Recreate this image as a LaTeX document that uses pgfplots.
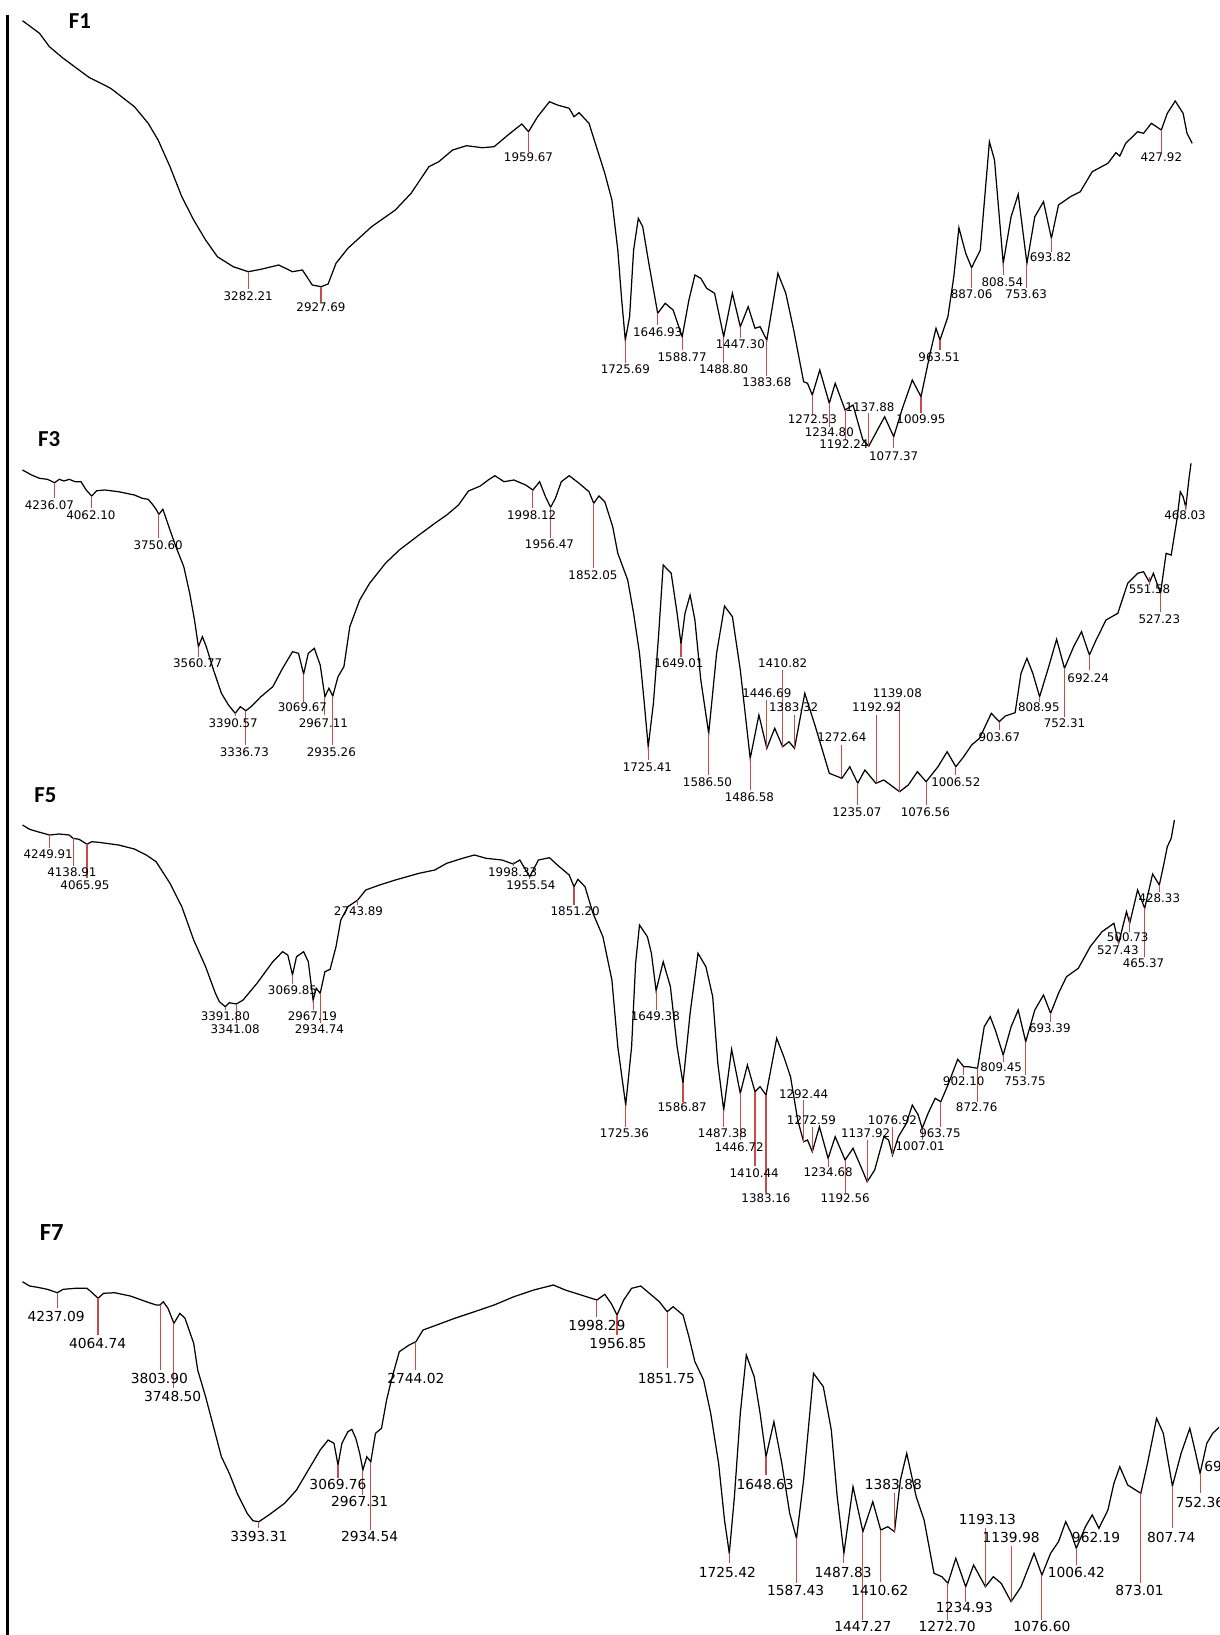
\documentclass[border=0pt]{standalone}
\usepackage{fontspec}
\setmainfont{DejaVu Sans}
\newfontfamily\titlefont{Carlito}
\usepackage{pgfplots}
\pgfplotsset{compat=1.18}
\definecolor{tickred}{RGB}{200,75,75}
\tikzset{
  spec/.style={black,line width=0.7pt,mark=none},
  pk/.style={tickred,line width=0.6pt,mark=none},
  lbl/.style={font=\fontsize{6.75}{7}\selectfont,inner sep=0pt,anchor=center},
  lbg/.style={font=\fontsize{7.85}{8}\selectfont,inner sep=0pt,anchor=center},
  ttl/.style={font=\titlefont\bfseries\fontsize{13}{14}\selectfont,inner sep=0pt,anchor=center}
}
\newcommand{\lb}[3]{\node[lbl] at (axis cs:#1,#2) {#3};}
\newcommand{\lbG}[3]{\node[lbg] at (axis cs:#1,#2) {#3};}
\begin{document}
\begin{tikzpicture}
\begin{axis}[at={(0,0)},anchor=south west,scale only axis,width=24.38cm,height=32.7cm,
  xmin=0,xmax=1219,ymin=0,ymax=1635,y dir=reverse,axis lines=none,clip=true,unbounded coords=jump]
% left vertical line
\addplot[black,line width=1.7pt,mark=none] coordinates {(7.9,15)(7.9,1640)};
% ---------------- F1 ----------------
\addplot[spec] coordinates {(22.5,20.7)(39.5,33.3)(49.4,46.7)(63.2,58.3)(88.9,77.3)(110.7,88.3)(134.4,106.7)(148.2,123.3)(158.1,140)(170,166.7)(181.8,196.7)(193.7,220)(205.6,240)(217.4,256.7)(233.2,266.7)(248.2,271.7)(260.9,269.3)(278.7,265)(292.5,271.7)(302.4,270)(312.3,285)(321,286.7)(328.1,284)(336,263.3)(347.9,248.3)(371.6,226.7)(395.3,210)(411.1,193.3)(428.9,166.7)(438.8,161.7)(452.6,150)(466.5,145.7)(482.3,147.7)(494.1,146.7)(508,135)(521.8,124)(528.5,131.7)(537.6,116.7)(549.5,101.7)(557.4,105)(569.2,108.3)(574,116.7)(579.1,112.7)(589,123.3)(604.8,173.3)(611.9,200)(617.8,250)(621.7,300)(625.3,340)(629.6,316.7)(633.6,250)(638.3,218.3)(642.7,226.7)(649.4,266.7)(657.7,313.3)(665.2,303.3)(673.1,310)(682.2,336.7)(688.9,300)(694.9,275)(700.8,278.3)(706.7,288.3)(714.6,293.3)(723.7,336.7)(732.4,293.3)(740.3,326.7)(748.2,306.7)(755,328.3)(760.1,326.7)(766.8,340)(777.9,273.3)(785.8,293.3)(793.7,330)(803.6,381.7)(807.5,383.3)(812.3,395)(819.8,370)(829.3,403.3)(835.2,383.3)(845.1,410)(853,405)(862.9,440)(868.8,446)(884.6,416.7)(893.7,436.7)(902.4,408.3)(912.3,380)(921,396.7)(930.1,353.3)(936,328.3)(940,340)(947.9,316.7)(953.8,276.7)(958.9,227.7)(965.7,253.3)(971.6,267.7)(980.3,250)(989.4,141.7)(994.5,160)(1003.2,263.3)(1011.1,216.7)(1018.2,194.3)(1026.9,263.3)(1034.8,216.7)(1043.5,201.7)(1051.4,238.3)(1058.5,205)(1070.4,196.7)(1080.3,191.7)(1092.2,171.7)(1107.9,163.3)(1115.9,152.7)(1119.8,156)(1125.7,143.3)(1137.6,131.7)(1143.5,133.3)(1151.4,123.3)(1161.3,130)(1167.3,113.3)(1175.2,101)(1183.1,113.3)(1187,133.3)(1192.2,143.3)};
\addplot[pk] coordinates {(248.2,271.7)(248.2,289)(nan,nan)(321,286.7)(321,301.7)(nan,nan)(528.5,131.7)(528.5,151.7)(nan,nan)(625.3,340)(625.3,363.3)(nan,nan)(657.7,313.3)(657.7,325)(nan,nan)(682.2,336.7)(682.2,350)(nan,nan)(723.7,336.7)(723.7,363.3)(nan,nan)(740.3,326.7)(740.3,338.3)(nan,nan)(766.8,340)(766.8,376)(nan,nan)(812.3,395)(812.3,415)(nan,nan)(829.3,403.3)(829.3,426.7)(nan,nan)(845.1,410)(845.1,440)(nan,nan)(868.8,446)(868.8,413.3)(nan,nan)(893.7,436.7)(893.7,448.3)(nan,nan)(921,396.7)(921,413.3)(nan,nan)(940,340)(940,350)(nan,nan)(971.6,267.7)(971.6,288.3)(nan,nan)(1003.2,263.3)(1003.2,275)(nan,nan)(1026.9,263.3)(1026.9,288.3)(nan,nan)(1051.4,238.3)(1051.4,251.7)(nan,nan)(1161.3,130)(1161.3,151.7)};
\lb{248.2}{295.7}{3282.21}
\lb{321}{307.3}{2927.69}
\lb{528.5}{157.3}{1959.67}
\lb{625.3}{369.3}{1725.69}
\lb{657.7}{332.3}{1646.93}
\lb{682.2}{357.3}{1588.77}
\lb{723.7}{369.3}{1488.80}
\lb{740.3}{344.3}{1447.30}
\lb{766.8}{381.7}{1383.68}
\lb{812.3}{419.3}{1272.53}
\lb{829.3}{431.7}{1234.80}
\lb{843.9}{444.3}{1192.24}
\lb{870}{406.7}{1137.88}
\lb{893.7}{456}{1077.37}
\lb{921}{419.3}{1009.95}
\lb{939.2}{356.7}{963.51}
\lb{971.6}{294.3}{887.06}
\lb{1002.4}{281.7}{808.54}
\lb{1026.1}{294.3}{753.63}
\lb{1050.6}{256.7}{693.82}
\lb{1161.3}{157.3}{427.92}
\node[ttl] at (axis cs:80,21) {F1};
% ---------------- F3 ----------------
\addplot[spec] coordinates {(22.5,470)(31.6,475)(39.5,478.3)(47.4,479.3)(54.6,482.7)(59.3,479.3)(64,481)(69.2,479.3)(75.1,481.7)(81,481.7)(86.2,490)(91.7,496)(96.8,490.7)(104.8,490)(118.6,491.7)(134.4,495)(142.3,498.3)(148.2,499.3)(152.2,504)(156.1,509.3)(158.9,514.3)(162.9,509.3)(170,530)(175.9,546.7)(183.8,566.7)(189.7,593.3)(194.5,620)(198.4,646.7)(202.4,636.7)(206.3,646.7)(213.5,670)(221.4,693.3)(228.5,705)(235.2,713.3)(240.3,706.7)(245.9,710.7)(251,706.7)(260.9,696.7)(272.8,686.7)(282.6,668.3)(292.5,651.7)(298.5,653.3)(303.6,674)(308.3,653.3)(314.3,648.3)(320.2,665)(324.9,696.7)(328.9,688.3)(332.8,696)(338,676.7)(343.9,666.7)(349.8,626.7)(359.7,600)(369.6,583.3)(385.4,563.3)(399.3,550)(419,535)(434.8,523.3)(446.7,515)(458.5,505)(468.4,491)(480.3,486)(488.2,480)(494.9,475.7)(504,481.7)(513.9,480)(525.7,485)(532.9,490)(539.6,481.7)(545.5,496.7)(550.6,507.3)(555.4,498.3)(561.3,481.7)(569.2,475.7)(579.1,483.3)(589,491.7)(593.7,503.3)(598.9,496)(604.8,501.7)(612.7,526.7)(617.8,553.3)(627.7,580)(633.6,613.3)(639.5,653.3)(644.3,703.3)(648.2,746.7)(653.4,703.3)(658.5,636.7)(663.2,565)(671.2,573.3)(677.1,613.3)(681,644)(685,613.3)(690.1,595)(694.9,620)(700.8,680)(708.7,733.3)(716.6,653.3)(724.5,606)(732.4,616.7)(740.3,670)(750.2,758.3)(758.9,715)(766.8,748.3)(774.7,728.3)(782.6,746.7)(789,741.7)(794.5,748.3)(804.8,693.3)(815.4,726.7)(829.3,773.3)(841.9,778.3)(849.8,766.7)(857.7,783.3)(864.9,770)(875.9,783.3)(883.8,780)(899.6,791.7)(908.3,785)(917.4,771.7)(926.1,781.7)(938,766.7)(947.1,751.7)(955.8,766.7)(963.7,756.7)(971.6,745)(979.5,738.3)(991.3,713.3)(999.3,721.7)(1005.2,716)(1015.1,712.7)(1021,673.3)(1026.9,658.3)(1032.8,673.3)(1039.6,696.7)(1048.7,666.7)(1056.6,639.3)(1064.5,668.3)(1073.6,646.7)(1081.5,631.7)(1089.4,655)(1096.1,640)(1106,620)(1117.8,613.3)(1127.7,583.3)(1137.6,573.3)(1143.5,571.7)(1149.5,582.3)(1153.4,573.3)(1160.5,593.3)(1166.1,553.3)(1171.2,555)(1177.1,518.3)(1180.3,491.7)(1183.1,496.7)(1185.8,507.3)(1189,478.3)(1191,463.3)};
\addplot[pk] coordinates {(54.6,482.7)(54.6,498.3)(nan,nan)(91.7,496)(91.7,508.3)(nan,nan)(158.9,514.3)(158.9,538.3)(nan,nan)(198.4,646.7)(198.4,656.7)(nan,nan)(235.2,713.3)(235.2,716)(nan,nan)(245.9,710.7)(245.9,745)(nan,nan)(303.6,674)(303.6,701.7)(nan,nan)(324.9,696.7)(324.9,715)(nan,nan)(332.8,696)(332.8,745)(nan,nan)(532.9,490)(532.9,508.3)(nan,nan)(550.6,507.3)(550.6,538.3)(nan,nan)(593.7,503.3)(593.7,568.3)(nan,nan)(648.2,746.7)(648.2,760)(nan,nan)(681,644)(681,656.7)(nan,nan)(708.7,733.3)(708.7,775)(nan,nan)(750.2,758.3)(750.2,790)(nan,nan)(766.8,748.3)(766.8,700)(nan,nan)(782.6,746.7)(782.6,670)(nan,nan)(794.5,748.3)(794.5,715)(nan,nan)(841.9,778.3)(841.9,745)(nan,nan)(857.7,783.3)(857.7,805)(nan,nan)(876.7,783.3)(876.7,715)(nan,nan)(899.6,791.7)(899.6,700.7)(nan,nan)(926.1,781.7)(926.1,805)(nan,nan)(955.8,766.7)(955.8,775)(nan,nan)(999.3,721.7)(999.3,730)(nan,nan)(1039.6,696.7)(1039.6,701.7)(nan,nan)(1064.5,668.3)(1064.5,716.7)(nan,nan)(1089.4,655)(1089.4,670)(nan,nan)(1149.5,577)(1149.5,585)(nan,nan)(1160.5,593.3)(1160.5,611.7)(nan,nan)(1185.8,505)(1185.8,510)};
\lb{49.4}{505}{4236.07}
\lb{90.9}{515}{4062.10}
\lb{158.1}{545}{3750.60}
\lb{197.7}{663.3}{3560.77}
\lb{233.2}{723.3}{3390.57}
\lb{244.3}{752.3}{3336.73}
\lb{302.4}{707.3}{3069.67}
\lb{323.4}{723.3}{2967.11}
\lb{331.3}{752.3}{2935.26}
\lb{531.7}{515}{1998.12}
\lb{549.5}{544.3}{1956.47}
\lb{593}{575}{1852.05}
\lb{647.4}{766.7}{1725.41}
\lb{679}{663.3}{1649.01}
\lb{707.5}{781.7}{1586.50}
\lb{749.4}{796.7}{1486.58}
\lb{766.8}{692.7}{1446.69}
\lb{782.6}{663.3}{1410.82}
\lb{793.7}{707.3}{1383.32}
\lb{841.9}{737.3}{1272.64}
\lb{857}{811.7}{1235.07}
\lb{876.7}{707.3}{1192.92}
\lb{897.3}{692.7}{1139.08}
\lb{925.3}{811.7}{1076.56}
\lb{955.8}{781.7}{1006.52}
\lb{999.3}{737.3}{903.67}
\lb{1038.8}{707.3}{808.95}
\lb{1064.5}{722.7}{752.31}
\lb{1088.2}{677.7}{692.24}
\lb{1149.5}{589.3}{551.58}
\lb{1159.3}{619}{527.23}
\lb{1185}{515}{468.03}
\node[ttl] at (axis cs:49.2,439) {F3};
% ---------------- F5 ----------------
\addplot[spec] coordinates {(22.5,825)(29.6,829.3)(37.6,831.7)(43.5,833.3)(49.4,835)(59.3,834)(69.2,835)(73.1,838.3)(79.1,839.3)(83,841.7)(87,844.3)(91.7,841.7)(98.8,842.3)(118.6,845)(134.4,849)(146.3,855)(156.1,861.7)(170,883.3)(181.8,906.7)(193.7,940)(205.6,966.7)(215.4,993.3)(219.4,1001.7)(225.3,1006.7)(229.3,1002.7)(236.4,1004)(243.1,1000)(257,983.3)(272.8,961.7)(282.6,951.7)(287.8,955)(292.5,975)(296.5,956.7)(303.6,951.7)(308.3,961.7)(313.1,1000)(316.2,988.3)(320.2,993.3)(324.9,971.7)(330.1,969.3)(336,946.7)(340.8,920)(347.9,906.7)(357.7,900)(365.7,890)(379.5,885)(395.3,880)(419,873.3)(434.8,870)(446.7,863.3)(462.5,858.3)(474.4,855)(486.2,858.3)(502,860)(513.1,864)(519.8,860)(529.7,876.7)(538.4,860)(549.5,857.7)(557.4,865)(569.2,875)(574,886.7)(577.9,879.3)(585,886.7)(593,913.3)(602.9,936.7)(611.9,980)(617.8,1046.7)(625.7,1105)(631.6,1046.7)(635.6,963.3)(639.5,925)(647.4,936.7)(651.4,953.3)(656.1,990.7)(663.2,961.7)(670.4,986.7)(677.1,1046.7)(683,1083.3)(690.1,1013.3)(698,953.3)(705.9,966.7)(712.7,996.7)(717.8,1063.3)(723.7,1110)(731.6,1049.3)(740.3,1093.3)(747.4,1065)(755,1091.7)(760.1,1086.7)(766,1095)(776.7,1038.3)(783.8,1056.7)(790.5,1076.7)(797.7,1120)(803.6,1141.7)(807.5,1140)(812.3,1151.7)(819.4,1126.7)(828.1,1158.3)(835.2,1136.7)(845.1,1160)(853,1148.3)(860.9,1166.7)(867.2,1181.7)(874.7,1170)(883.8,1136.7)(888.6,1140)(892.5,1155)(898.4,1136.7)(906.4,1123.3)(912.3,1105)(918.2,1115)(922.2,1128.3)(928.1,1113.3)(935.2,1098.3)(940.8,1101.7)(947.9,1085)(957.7,1059.3)(963.7,1066.7)(968.4,1066.7)(977.5,1068.3)(984.2,1026.7)(990.2,1016.7)(995.3,1030)(1003.2,1055)(1011.1,1026.7)(1018.2,1010)(1025.7,1041.7)(1034.8,1010)(1043.5,995)(1050.6,1013.3)(1058.5,993.3)(1066.5,976.7)(1078.3,968.3)(1090.2,946.7)(1102,931.7)(1113.9,923.3)(1118.6,943.3)(1126.5,911.7)(1129.7,923.3)(1137.6,890)(1144.7,908.3)(1152.6,874)(1159.3,885)(1163.3,866.7)(1167.3,846.7)(1171.2,838.3)(1174.4,820)};
\addplot[pk] coordinates {(49.4,835)(49.4,848.3)(nan,nan)(73.1,838.3)(73.1,866)(nan,nan)(87,844.3)(87,878.3)(nan,nan)(225.3,1006.7)(225.3,1010)(nan,nan)(236.4,1004)(236.4,1023.3)(nan,nan)(292.5,975)(292.5,984)(nan,nan)(313.1,1000)(313.1,1010)(nan,nan)(320.2,993.3)(320.2,1023.3)(nan,nan)(357.7,900)(357.7,905)(nan,nan)(513.1,862)(513.1,866)(nan,nan)(529.7,876.7)(529.7,879.3)(nan,nan)(574,886.7)(574,905)(nan,nan)(625.7,1105)(625.7,1126.7)(nan,nan)(656.1,990.7)(656.1,1010)(nan,nan)(683,1083.3)(683,1101.7)(nan,nan)(723.7,1110)(723.7,1126.7)(nan,nan)(740.3,1093.3)(740.3,1140)(nan,nan)(755,1091.7)(755,1166)(nan,nan)(766,1095)(766,1192.7)(nan,nan)(803.6,1141.7)(803.6,1100)(nan,nan)(812.3,1151.7)(812.3,1126.7)(nan,nan)(828.1,1158.3)(828.1,1166.7)(nan,nan)(845.1,1160)(845.1,1192.7)(nan,nan)(867.2,1181.7)(867.2,1140)(nan,nan)(892.5,1155)(892.5,1126.7)(nan,nan)(922.2,1128.3)(922.2,1140)(nan,nan)(940.8,1101.7)(940.8,1126.7)(nan,nan)(963.7,1066.7)(963.7,1075)(nan,nan)(977.5,1068.3)(977.5,1101.7)(nan,nan)(1003.2,1055)(1003.2,1061.7)(nan,nan)(1025.7,1041.7)(1025.7,1075)(nan,nan)(1050.6,1013.3)(1050.6,1021.7)(nan,nan)(1118.6,940)(1118.6,945)(nan,nan)(1129.7,916.7)(1129.7,931.7)(nan,nan)(1144.7,908.3)(1144.7,956.7)(nan,nan)(1159.3,885)(1159.3,891.7)};
\lb{48.2}{854}{4249.91}
\lb{71.9}{871.7}{4138.91}
\lb{85}{885}{4065.95}
\lb{225.3}{1015.7}{3391.80}
\lb{235.2}{1029}{3341.08}
\lb{292.5}{990}{3069.85}
\lb{312.3}{1015.7}{2967.19}
\lb{319.4}{1029}{2934.74}
\lb{358.5}{911}{2743.89}
\lb{512.7}{872.3}{1998.33}
\lb{530.9}{885}{1955.54}
\lb{575.2}{911}{1851.20}
\lb{624.5}{1133.3}{1725.36}
\lb{655.3}{1016}{1649.38}
\lb{682.2}{1107.3}{1586.87}
\lb{722.5}{1133.3}{1487.38}
\lb{739.1}{1146.7}{1446.72}
\lb{754.2}{1172.7}{1410.44}
\lb{766}{1198.3}{1383.16}
\lb{803.6}{1094}{1292.44}
\lb{811.5}{1120}{1272.59}
\lb{828.1}{1172.3}{1234.68}
\lb{845.1}{1198.3}{1192.56}
\lb{865.6}{1133.3}{1137.92}
\lb{892.5}{1120}{1076.92}
\lb{920.2}{1146}{1007.01}
\lb{940}{1132.7}{963.75}
\lb{963.7}{1081}{902.10}
\lb{976.7}{1107.3}{872.76}
\lb{1001.2}{1067.3}{809.45}
\lb{1025}{1081}{753.75}
\lb{1049.8}{1028.3}{693.39}
\lb{1117.8}{950}{527.43}
\lb{1127.7}{937.3}{500.73}
\lb{1143.5}{962.7}{465.37}
\lb{1159.3}{898.3}{428.33}
\node[ttl] at (axis cs:45.3,795) {F5};
% ---------------- F7 ----------------
\addplot[spec] coordinates {(22.5,1281.7)(29.6,1286)(37.6,1287.3)(47.4,1289.3)(57.3,1292.7)(63.2,1289.3)(75.1,1288.3)(87,1288.3)(92.9,1293.3)(98,1298.3)(103.6,1293.3)(114.6,1292.7)(130.4,1296)(146.3,1301.7)(156.1,1305)(160.1,1305)(163.3,1301.7)(168,1308.3)(173.9,1323.3)(179.9,1313.3)(185,1318.3)(193.7,1343.3)(197.7,1370)(205.6,1396.7)(213.5,1426.7)(221.4,1456.7)(229.3,1473.3)(237.2,1493.3)(247.1,1513.3)(253,1520.7)(258.9,1521.7)(268.8,1515)(284.6,1503.3)(296.5,1490)(308.3,1470)(320.2,1450)(328.1,1440)(334,1443.3)(338,1465)(341.9,1443.3)(347.9,1431.7)(351.8,1429.3)(355.8,1438.3)(359.7,1453.3)(362.9,1470)(366.8,1456.7)(370.8,1461.7)(375.5,1433.3)(381.5,1428.3)(386.6,1400)(391.4,1380)(399.3,1351.7)(409.1,1345)(415.9,1341.7)(423,1330)(434.8,1325.7)(454.6,1318.3)(474.4,1311.7)(494.1,1305)(513.9,1296.7)(533.7,1290)(553.4,1285)(565.3,1290)(581.1,1295)(596.9,1300)(604.8,1294.3)(611.1,1303.3)(617,1315)(623.7,1300)(631.6,1288.3)(640.7,1286)(649.4,1293.3)(659.3,1301.7)(667.2,1311.7)(673.1,1306.7)(683,1315)(688.9,1336.7)(694.9,1361.7)(703.6,1380)(710.7,1413.3)(718.6,1463.3)(724.5,1520)(729.3,1553.3)(734.4,1496.7)(740.3,1413.3)(746.3,1355)(754.2,1376.7)(760.1,1413.3)(766,1456.7)(773.9,1421.7)(781.8,1463.3)(789.7,1513.3)(796.5,1538.3)(803.6,1480)(813.5,1373.3)(823.3,1386.7)(831.3,1430)(837.2,1496.7)(843.9,1553.3)(853,1486.7)(862.9,1531.7)(872.8,1501.7)(880.7,1530)(887.8,1526.7)(894.5,1531.7)(900.4,1480)(906.7,1453.3)(916.2,1496.7)(924.1,1520)(934,1573.3)(941.9,1576.7)(947.9,1583.3)(955.8,1558.3)(965.7,1586.7)(973.6,1565)(985.4,1586.7)(993.3,1576.7)(1001.2,1583.3)(1011.1,1601.7)(1021,1586.7)(1034,1553.3)(1041.9,1575)(1050.6,1553.3)(1058.5,1541.7)(1065.7,1521.7)(1071.2,1533.3)(1076.3,1548.3)(1085.4,1526.7)(1092.2,1515)(1098.9,1528.3)(1107.9,1510)(1113.9,1483.3)(1119.8,1466.7)(1127.7,1485)(1140.8,1493.3)(1147.5,1463.3)(1156.6,1418.3)(1163.3,1433.3)(1172.4,1486)(1181.1,1453.3)(1189.8,1428.3)(1194.9,1450)(1200.1,1473.3)(1206.8,1443.3)(1212.7,1433.3)(1219.7,1426.7)};
\addplot[pk] coordinates {(57.3,1292.7)(57.3,1308.3)(nan,nan)(98,1298.3)(98,1335)(nan,nan)(160.1,1305)(160.1,1370)(nan,nan)(173.9,1323.3)(173.9,1388.3)(nan,nan)(258.9,1521.7)(258.9,1528.3)(nan,nan)(338,1465)(338,1478.3)(nan,nan)(362.9,1470)(362.9,1495)(nan,nan)(370.8,1461.7)(370.8,1530)(nan,nan)(415.9,1341.7)(415.9,1370)(nan,nan)(596.9,1300)(596.9,1316.7)(nan,nan)(617,1315)(617,1335)(nan,nan)(667.2,1311.7)(667.2,1368.3)(nan,nan)(729.3,1553.3)(729.3,1563.3)(nan,nan)(766,1456.7)(766,1475)(nan,nan)(796.5,1538.3)(796.5,1583.3)(nan,nan)(843.9,1553.3)(843.9,1563.3)(nan,nan)(862.9,1531.7)(862.9,1620)(nan,nan)(880.7,1530)(880.7,1581.7)(nan,nan)(894.5,1531.7)(894.5,1493.3)(nan,nan)(947.9,1583.3)(947.9,1620)(nan,nan)(965.7,1586.7)(965.7,1601.7)(nan,nan)(985.4,1586.7)(985.4,1528.3)(nan,nan)(1011.1,1601.7)(1011.1,1546)(nan,nan)(1041.9,1575)(1041.9,1620)(nan,nan)(1076.3,1548.3)(1076.3,1565)(nan,nan)(1140.8,1493.3)(1140.8,1583.3)(nan,nan)(1172.4,1486)(1172.4,1528.3)(nan,nan)(1200.1,1473.3)(1200.1,1493.3)};
\lbG{56.1}{1316.7}{4237.09}
\lbG{97.6}{1343.3}{4064.74}
\lbG{159.3}{1378.3}{3803.90}
\lbG{172.7}{1396.7}{3748.50}
\lbG{258.9}{1536.7}{3393.31}
\lbG{338}{1484}{3069.76}
\lbG{359.7}{1501.7}{2967.31}
\lbG{369.6}{1536.7}{2934.54}
\lbG{415.9}{1378.3}{2744.02}
\lbG{597}{1325}{1998.29}
\lbG{618}{1343.3}{1956.85}
\lbG{666.4}{1378.3}{1851.75}
\lbG{727.3}{1572.7}{1725.42}
\lbG{765.2}{1484}{1648.63}
\lbG{795.7}{1590}{1587.43}
\lbG{843.1}{1572.7}{1487.83}
\lbG{862.9}{1626}{1447.27}
\lbG{879.9}{1590}{1410.62}
\lbG{893.3}{1484}{1383.88}
\lbG{947.1}{1626}{1272.70}
\lbG{964.5}{1607.3}{1234.93}
\lbG{987.4}{1519.3}{1193.13}
\lbG{1011.1}{1537.3}{1139.98}
\lbG{1041.9}{1626}{1076.60}
\lbG{1076.3}{1572.7}{1006.42}
\lbG{1096.1}{1537.3}{962.19}
\lbG{1139.6}{1590}{873.01}
\lbG{1171.2}{1537.3}{807.74}
\node[lbg,overlay] at (axis cs:1200,1502.7) {752.36};
\node[lbg,overlay,anchor=west] at (axis cs:1204,1466.7) {693.36};
\node[ttl,font=\titlefont\bfseries\fontsize{14}{15}\selectfont] at (axis cs:51.7,1233) {F7};
\end{axis}
\path (0,0) rectangle (24.38cm,32.7cm);
\end{tikzpicture}
\end{document}
